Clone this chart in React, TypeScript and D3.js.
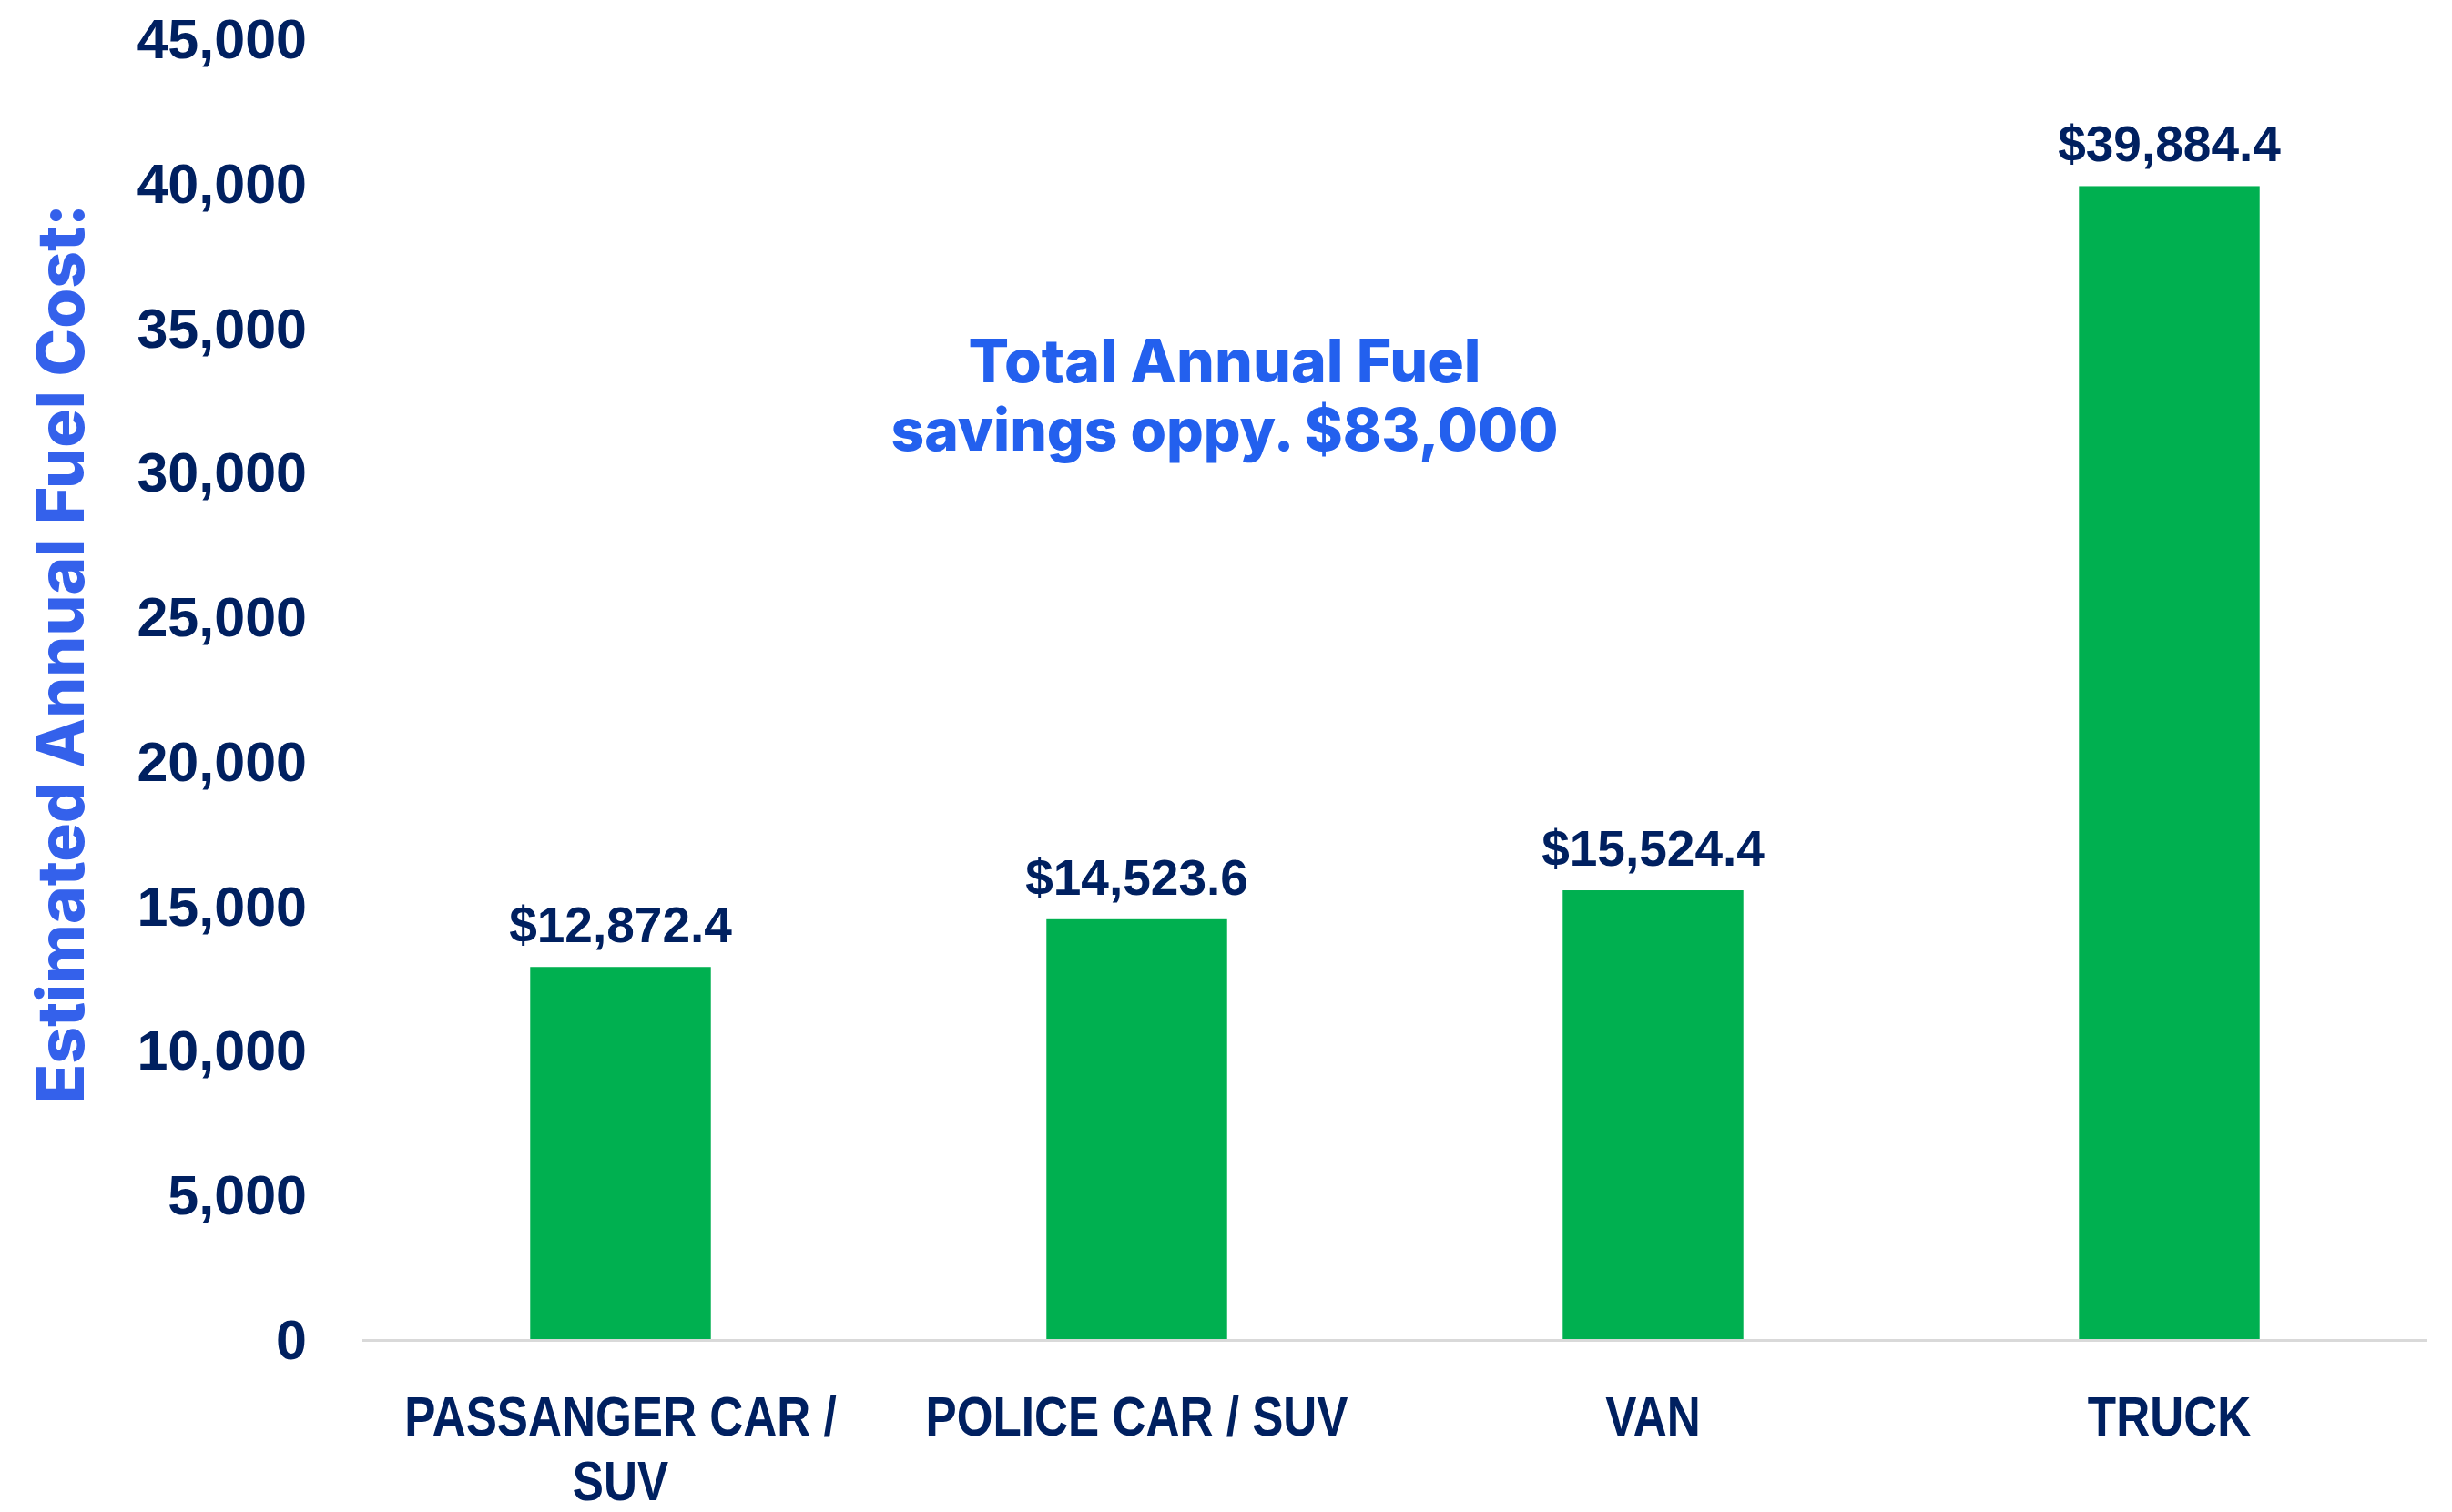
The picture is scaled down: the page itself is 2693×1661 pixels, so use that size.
import { useEffect, useRef } from 'react';
import * as d3 from 'd3';

const categories = ["PASSANGER CAR / SUV", "POLICE CAR / SUV", "VAN", "TRUCK"];
const fuelCost = [12872.4, 14523.6, 15524.4, 39884.4];
const yTicks = [0, 5000, 10000, 15000, 20000, 25000, 30000, 35000, 40000, 45000];
const titleLines = ["Total Annual Fuel", "savings oppy. $83,000"];
const yLabel = "Estimated Annual Fuel Cost:";

const W = 2693, H = 1661;
const navy = "#002060";
const blue = "#2360EE";
const squeeze = 0.84; // category labels are a condensed face

function wrap(sel: d3.Selection<SVGTextElement, string, SVGGElement, unknown>, maxW: number, lineH: number) {
    sel.each(function (d) {
        const text = d3.select(this);
        const words = d.split(" ");
        text.text(null);
        let line: string[] = [];
        let tspan = text.append("tspan").attr("x", 0).attr("dy", 0);
        words.forEach((w) => {
            line.push(w);
            tspan.text(line.join(" "));
            if ((tspan.node() as SVGTSpanElement).getComputedTextLength() > maxW && line.length > 1) {
                line.pop();
                tspan.text(line.join(" "));
                line = [w];
                tspan = text.append("tspan").attr("x", 0).attr("dy", lineH).text(w);
            }
        });
    });
}

const App = () => {
    const ref = useRef<SVGSVGElement>(null);

    useEffect(() => {
        document.body.style.margin = "0";
        const svg = d3.select(ref.current);
        svg.selectAll("*").remove();

        const margin = { top: 42, right: 27, bottom: 190, left: 398 };
        const width = W - margin.left - margin.right;
        const height = H - margin.top - margin.bottom;

        const g = svg.append("g")
            .attr("transform", "translate(" + margin.left + "," + margin.top + ")");

        const x = d3.scaleBand<string>().domain(categories).range([0, width])
            .paddingInner(0.65).paddingOuter(0.325);
        const y = d3.scaleLinear().domain([0, 45000]).range([height, 0]);

        // y tick labels only, no axis line
        g.append("g")
            .selectAll("text")
            .data(yTicks)
            .join("text")
            .attr("x", -61)
            .attr("y", (d) => y(d))
            .attr("dy", "0.36em")
            .attr("text-anchor", "end")
            .style("font-family", "'Liberation Sans', Arial, sans-serif")
            .style("font-weight", "700")
            .style("font-size", "61px")
            .style("fill", navy)
            .text((d) => d3.format(",")(d));

        g.append("line")
            .attr("x1", 0).attr("x2", width)
            .attr("y1", height + 1.5).attr("y2", height + 1.5)
            .style("stroke", "#D9D9D9")
            .style("stroke-width", 3);

        g.selectAll("rect.bar")
            .data(fuelCost)
            .join("rect")
            .attr("class", "bar")
            .attr("x", (_, i) => x(categories[i])!)
            .attr("width", x.bandwidth())
            .attr("y", (d) => y(d))
            .attr("height", (d) => height - y(d))
            .style("fill", "#00B050");

        g.selectAll("text.value")
            .data(fuelCost)
            .join("text")
            .attr("class", "value")
            .attr("x", (_, i) => x(categories[i])! + x.bandwidth() / 2)
            .attr("y", (d) => y(d) - 27)
            .attr("text-anchor", "middle")
            .style("font-family", "'Liberation Sans', Arial, sans-serif")
            .style("font-weight", "700")
            .style("font-size", "55px")
            .style("fill", navy)
            .text((d) => "$" + d3.format(",.1f")(d));

        const cat = g.append("g")
            .selectAll("g")
            .data(categories)
            .join("g")
            .attr("transform", (d) => "translate(" + (x(d)! + x.bandwidth() / 2) + "," + (height + 106) + ") scale(" + squeeze + ",1)");
        cat.append("text")
            .attr("text-anchor", "middle")
            .style("font-family", "'Liberation Sans', Arial, sans-serif")
            .style("font-weight", "700")
            .style("font-size", "61px")
            .style("fill", navy)
            .text((d) => d)
            .call(wrap as any, 510 / squeeze, 71);

        svg.append("g")
            .selectAll("text")
            .data(titleLines)
            .join("text")
            .attr("x", 1345)
            .attr("y", (_, i) => 420 + i * 75)
            .attr("text-anchor", "middle")
            .style("font-family", "Inter, 'Open Sans', sans-serif")
            .style("font-weight", "800")
            .style("font-size", (_, i) => (i === 0 ? "66px" : "64px"))
            .style("fill", blue)
            .text((d) => d);

        svg.append("text")
            .attr("transform", "translate(" + 66 + "," + 718 + ") rotate(-90)")
            .attr("text-anchor", "middle")
            .attr("dy", "0.36em")
            .style("font-family", "Inter, 'Open Sans', sans-serif")
            .style("font-weight", "800")
            .style("font-size", "71px")
            .style("fill", "#3461EB")
            .text(yLabel);
    }, []);

    return (
        <svg width={W} height={H} ref={ref} style={{ display: "block", background: "#fff" }} />
    );
};

export default App;
